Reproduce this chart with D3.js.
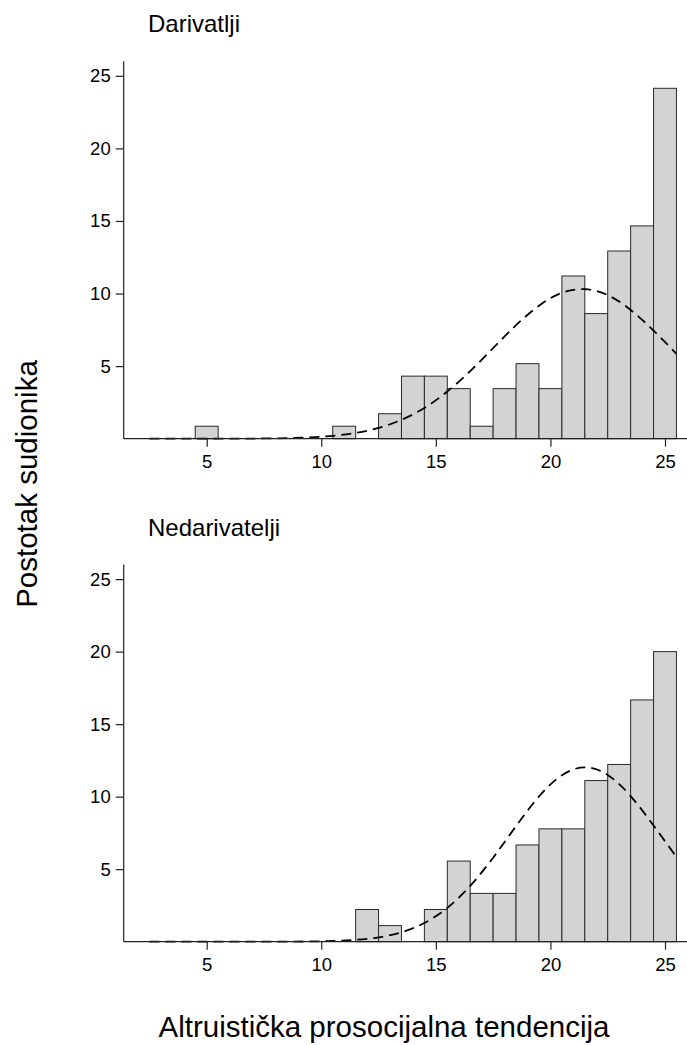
<!DOCTYPE html>
<html>
<head>
<meta charset="utf-8">
<script src="https://cdn.jsdelivr.net/npm/d3@7"></script>
<style>
  body { margin: 0; background: #fff; }
  svg { display: block; font-family: "Liberation Sans", Arial, sans-serif; }
</style>
</head>
<body>
<div id="chart"></div>
<script>
// histogram bins (score values, width 1)
const bins = [5, 11, 12, 13, 14, 15, 16, 17, 18, 19, 20, 21, 22, 23, 24, 25];
// percent of participants per bin
const darivatelji   = [0.86, 0.86, 0, 1.72, 4.31, 4.31, 3.45, 0.86, 3.45, 5.17, 3.45, 11.21, 8.62, 12.93, 14.66, 24.14];
const nedarivatelji = [0, 0, 2.22, 1.11, 0, 2.22, 5.56, 3.33, 3.33, 6.67, 7.78, 7.78, 11.11, 12.22, 16.67, 20.0];

// normal curve
const curveX = [2.5, 3.5, 4.5, 5.5, 6.5, 7.5, 8.5, 9.5, 10.5, 11.5, 12.5, 13.5, 14.5, 15.5, 16.5, 17.5, 18.5, 19.5, 20.5, 21.5, 22.5, 23.5, 24.5, 25.5];
const curveDar = [0, 0, 0, 0.001, 0.006, 0.016, 0.04, 0.093, 0.198, 0.40, 0.74, 1.30, 2.12, 3.25, 4.66, 6.24, 7.82, 9.16, 10.05, 10.30, 9.89, 8.87, 7.45, 5.85];
const curveNed = [0, 0, 0, 0, 0, 0, 0.005, 0.017, 0.049, 0.13, 0.30, 0.65, 1.29, 2.33, 3.85, 5.79, 7.97, 10.01, 11.48, 12.02, 11.50, 10.04, 8.01, 5.84];

const xTicks = [5, 10, 15, 20, 25];
const yTicks = [5, 10, 15, 20, 25];

const panels = [
  { title: "Darivatlji", values: darivatelji, curve: curveDar, top: 61.3, base: 438.7, titleY: 32 },
  { title: "Nedarivatelji", values: nedarivatelji, curve: curveNed, top: 564.6, base: 941.7, titleY: 535.5 }
];

const width = 687, height = 1045;
const left = 123.7, right = 687;

const svg = d3.select("#chart").append("svg")
  .attr("width", width)
  .attr("height", height);

const x = d3.scaleLinear().domain([1.378, 25.96]).range([left, right]);

panels.forEach(p => {
  const y = d3.scaleLinear().domain([0, 26]).range([p.base, p.top]);
  const g = svg.append("g");

  // bars
  g.selectAll("rect")
    .data(bins.map((b, i) => ({ b, v: p.values[i] })).filter(d => d.v > 0))
    .join("rect")
    .attr("x", d => x(d.b - 0.5))
    .attr("width", d => x(d.b + 0.5) - x(d.b - 0.5))
    .attr("y", d => y(d.v))
    .attr("height", d => y(0) - y(d.v))
    .attr("fill", "#d3d3d3")
    .attr("stroke", "#2a2a2a")
    .attr("stroke-width", 1);

  // normal curve
  const line = d3.line()
    .x((d, i) => x(curveX[i]))
    .y(d => y(d))
    .curve(d3.curveNatural);
  g.append("path")
    .attr("d", line(p.curve))
    .attr("fill", "none")
    .attr("stroke", "#000")
    .attr("stroke-width", 1.8)
    .attr("stroke-dasharray", "10,6");

  // y axis
  const yAxis = g.append("g")
    .attr("transform", `translate(${left},0)`)
    .call(d3.axisLeft(y).tickValues(yTicks).tickSize(8).tickPadding(5).tickFormat(d3.format("d")));
  yAxis.select(".domain").attr("d", `M0,${p.top}V${p.base}`);

  // x axis
  const xAxis = g.append("g")
    .attr("transform", `translate(0,${p.base})`)
    .call(d3.axisBottom(x).tickValues(xTicks).tickSize(8).tickPadding(8).tickFormat(d3.format("d")));
  xAxis.select(".domain").attr("d", `M${left},0H${right}`);

  [yAxis, xAxis].forEach(a => {
    a.selectAll("path, line").attr("stroke", "#222").attr("stroke-width", 1.2);
    a.selectAll("text").attr("fill", "#000").style("font-size", "18.5px")
      .style("font-family", "'Liberation Sans', Arial, sans-serif");
  });

  // panel title
  svg.append("text")
    .attr("x", 148)
    .attr("y", p.titleY)
    .style("font-size", "24px")
    .text(p.title);
});

// axis titles
svg.append("text")
  .attr("transform", "translate(37,484) rotate(-90)")
  .attr("text-anchor", "middle")
  .style("font-size", "29.5px")
  .text("Postotak sudionika");

svg.append("text")
  .attr("x", 384)
  .attr("y", 1037)
  .attr("text-anchor", "middle")
  .style("font-size", "29.5px")
  .text("Altruistička prosocijalna tendencija");
</script>
</body>
</html>
